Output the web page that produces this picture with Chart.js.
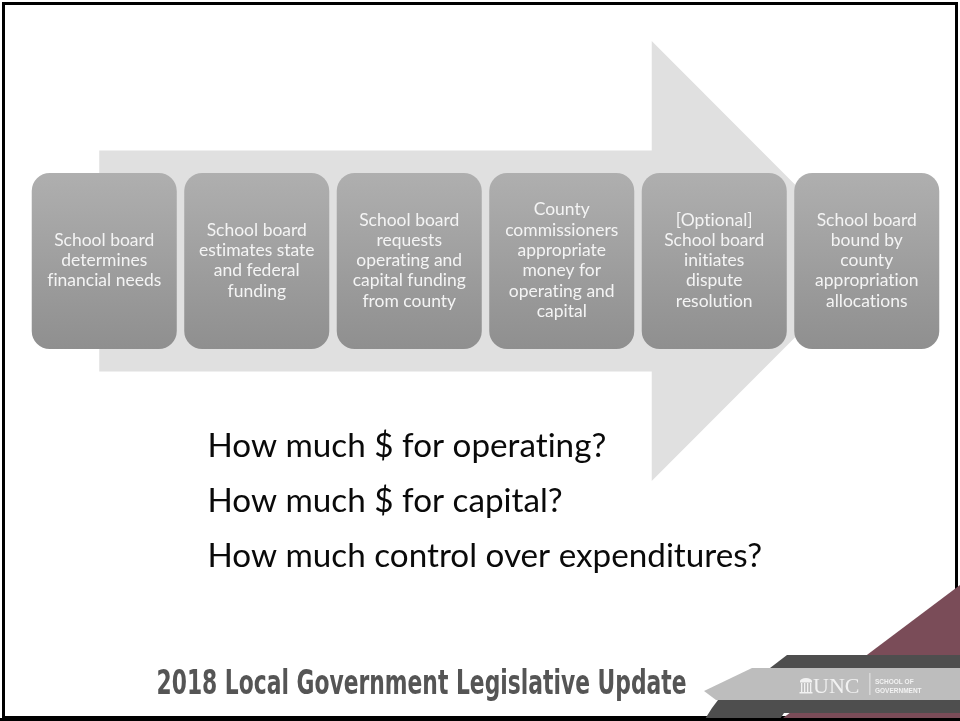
<!DOCTYPE html>
<html>
<head>
<meta charset="utf-8">
<script src="https://cdn.jsdelivr.net/npm/chart.js@4"></script>
<style>
  html, body { margin: 0; padding: 0; background: #fff; }
  canvas { display: block; }
</style>
</head>
<body>
<canvas id="chart" width="960" height="721"></canvas>
<script>
// process steps, in order (one box each)
const steps = [
  ["School board", "determines", "financial needs"],
  ["School board", "estimates state", "and federal", "funding"],
  ["School board", "requests", "operating and", "capital funding", "from county"],
  ["County", "commissioners", "appropriate", "money for", "operating and", "capital"],
  ["[Optional]", "School board", "initiates", "dispute", "resolution"],
  ["School board", "bound by", "county", "appropriation", "allocations"],
];
// every step box spans the full band
const stepHeights = [1, 1, 1, 1, 1, 1];

const questions = [
  "How much $ for operating?",
  "How much $ for capital?",
  "How much control over expenditures?",
];
const footerTitle = "2018 Local Government Legislative Update";

const BODY_FONT = "Lato, 'Open Sans', sans-serif";

// font size that makes `text` exactly `width` px wide
function fitSize(ctx, text, width, weight, family) {
  ctx.font = `${weight} 20px ${family}`;
  return 20 * width / ctx.measureText(text).width;
}

function poly(ctx, pts, color) {
  ctx.beginPath();
  ctx.moveTo(pts[0][0], pts[0][1]);
  for (let i = 1; i < pts.length; i++) ctx.lineTo(pts[i][0], pts[i][1]);
  ctx.closePath();
  ctx.fillStyle = color;
  ctx.fill();
}

const arrowPlugin = {
  id: "arrow",
  beforeDatasetsDraw(chart) {
    const { ctx, chartArea } = chart;
    const x = chart.scales.x;
    const cy = (chartArea.top + chartArea.bottom) / 2;
    const tail = x.getPixelForValue(0) - 5;
    const neck = x.getPixelForValue(3.59);
    const tip = x.getPixelForValue(5.03);
    const shaft = 110.5, head = 220;
    ctx.save();
    poly(ctx, [
      [tail, cy - shaft], [neck, cy - shaft], [neck, cy - head], [tip, cy],
      [neck, cy + head], [neck, cy + shaft], [tail, cy + shaft],
    ], "#e0e0e0");
    ctx.restore();
  },
};

const stepLabels = {
  id: "stepLabels",
  afterDatasetsDraw(chart) {
    const { ctx } = chart;
    const meta = chart.getDatasetMeta(0);
    ctx.save();
    ctx.letterSpacing = "0.01px"; // no fi/ti ligatures
    const size = fitSize(ctx, "financial needs", 114, 400, BODY_FONT);
    const lh = 20.3;
    ctx.font = `400 ${size}px ${BODY_FONT}`;
    ctx.fillStyle = "#f4f4f4";
    ctx.textAlign = "center";
    ctx.textBaseline = "middle";
    meta.data.forEach((bar, i) => {
      const lines = steps[i];
      const cy = (bar.y + bar.base) / 2 - 0.5;
      lines.forEach((t, j) => {
        ctx.fillText(t, bar.x, cy + (j - (lines.length - 1) / 2) * lh);
      });
    });
    ctx.restore();
  },
};

const slideDecor = {
  id: "slideDecor",
  afterDraw(chart) {
    const { ctx, width, height } = chart;
    ctx.save();
    ctx.letterSpacing = "0.01px";

    // questions
    const qSize = fitSize(ctx, questions[2], 555, 400, BODY_FONT);
    ctx.font = `400 ${qSize}px ${BODY_FONT}`;
    ctx.fillStyle = "#0a0a0a";
    ctx.textAlign = "left";
    ctx.textBaseline = "alphabetic";
    questions.forEach((q, i) => ctx.fillText(q, 207.5, 457 + i * 55));

    // slide border
    ctx.strokeStyle = "#000";
    ctx.lineWidth = 3;
    ctx.strokeRect(3.5, 3.5, width - 7, height - 7);

    // footer title (condensed bold)
    ctx.letterSpacing = "0px";
    ctx.font = "bold 33px 'DejaVu Sans Condensed', 'DejaVu Sans', sans-serif";
    const fw = ctx.measureText(footerTitle).width;
    ctx.save();
    ctx.translate(156.5, 694);
    ctx.scale(530 / fw, 1);
    ctx.fillStyle = "#555555";
    ctx.fillText(footerTitle, 0, 0);
    ctx.restore();

    // UNC logo bands
    poly(ctx, [[960, 585], [960, 721], [779, 721]], "#7a4c58");
    poly(ctx, [[787, 655], [960, 655], [960, 668], [770, 668]], "#4e4e4e");
    poly(ctx, [[752, 668], [960, 668], [960, 700], [716, 700], [704, 691]], "#bdbdbd");
    poly(ctx, [[718, 700], [960, 700], [960, 713], [784, 713], [780, 719], [705, 719], [712, 708]], "#4e4e4e");

    // bottom border over the bands
    ctx.fillStyle = "#000";
    ctx.fillRect(0, height - 3, width, 3);

    // old well glyph
    ctx.fillStyle = "#f2f2f2";
    ctx.beginPath();
    ctx.ellipse(806, 681, 6, 3, 0, Math.PI, 0);
    ctx.fill();
    ctx.fillRect(800, 681, 12, 1.5);
    for (let k = 0; k < 4; k++) ctx.fillRect(801 + k * 3, 683, 1.3, 9);
    ctx.fillRect(799.5, 692, 13, 1.5);

    ctx.font = "22px 'Liberation Serif', serif";
    ctx.fillText("UNC", 813, 693);
    ctx.fillRect(869.5, 673, 0.8, 22);
    ctx.font = "bold 6.5px 'Liberation Sans', sans-serif";
    ctx.fillText("SCHOOL OF", 875, 684);
    ctx.fillText("GOVERNMENT", 875, 693);

    ctx.restore();
  },
};

const ctx = document.getElementById("chart").getContext("2d");
new Chart(ctx, {
  type: "bar",
  data: {
    labels: steps.map((s) => s.join(" ")),
    datasets: [
      {
        data: stepHeights,
        backgroundColor: (c) => {
          const area = c.chart.chartArea;
          if (!area) return "#a0a0a0";
          const g = c.chart.ctx.createLinearGradient(0, area.top, 0, area.bottom);
          g.addColorStop(0, "#afafaf");
          g.addColorStop(1, "#8f8f8f");
          return g;
        },
        borderWidth: 0,
        borderRadius: 18,
        borderSkipped: false,
        categoryPercentage: 1,
        barPercentage: 0.951,
      },
    ],
  },
  options: {
    responsive: false,
    animation: false,
    devicePixelRatio: 1,
    layout: { padding: { left: 28, right: 17, top: 173, bottom: 372 } },
    scales: {
      x: { display: false },
      y: { display: false, min: 0, max: 1 },
    },
    plugins: {
      legend: { display: false },
      tooltip: { enabled: false },
    },
  },
  plugins: [arrowPlugin, stepLabels, slideDecor],
});
</script>
</body>
</html>
